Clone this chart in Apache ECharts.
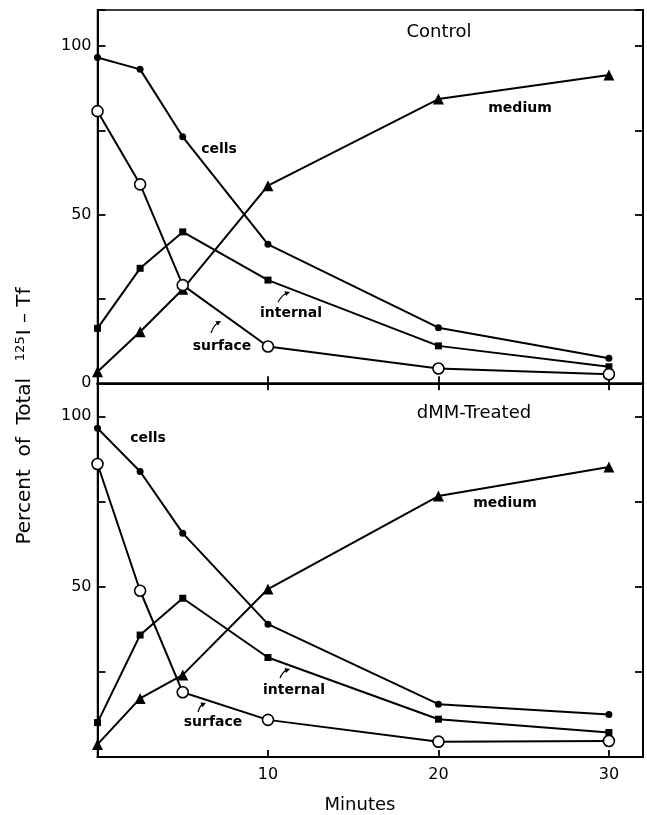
<!DOCTYPE html>
<html><head><meta charset="utf-8">
<script src="https://cdn.jsdelivr.net/npm/echarts@6/dist/echarts.min.js"></script>
<style>html,body{margin:0;padding:0;background:#fff}#c{width:647px;height:815px}</style>
</head><body><div id="c"></div>
<script>
// ---- data ----
const minutes = [0, 2.5, 5, 10, 20, 30];
const controlCells    = [96.6, 93.1, 73.1, 41.2, 16.5, 7.4];
const controlInternal = [16.3, 34.1, 44.9, 30.6, 11.1, 4.9];
const controlSurface  = [80.7, 59.0, 29.1, 10.9, 4.4, 2.7];
const controlMedium   = [3.4, 15.3, 27.9, 58.6, 84.3, 91.4];
const dmmCells        = [96.5, 83.8, 65.7, 39.0, 15.5, 12.5];
const dmmInternal     = [10.1, 35.8, 46.6, 29.2, 11.1, 7.2];
const dmmSurface      = [86.0, 48.8, 19.0, 10.9, 4.5, 4.7];
const dmmMedium       = [3.7, 17.2, 24.1, 49.3, 76.6, 85.1];
const xTickLabels = [10, 20, 30];
const yLabelsTop = [0, 50, 100];
const yLabelsBottom = [50, 100];

const FONT = 'DejaVu Sans';
const chart = echarts.init(document.getElementById('c'), null, {renderer: 'canvas'});

function pairs(vals) { return minutes.map((m, i) => [m, vals[i]]); }
function mk(name, vals, gi, symbol, size, z) {
  const open = symbol === 'emptyCircle';
  return {
    name, type: 'line', xAxisIndex: gi === 0 ? 0 : 1, yAxisIndex: gi === 0 ? 0 : 2,
    data: pairs(vals), symbol: open ? 'circle' : symbol, symbolSize: size,
    showAllSymbol: true, clip: false, animation: false, z,
    lineStyle: {color: '#000', width: 2},
    itemStyle: open ? {color: '#fff', borderColor: '#000', borderWidth: 1.6} : {color: '#000', borderWidth: 0}
  };
}

const tickStyle = {show: true, inside: true, length: 8, lineStyle: {color: '#000', width: 1.8}};
const lineStyleAx = {show: true, lineStyle: {color: '#000', width: 2}};

function yAx(gi, max, labels, pos, showLabel) {
  return {
    type: 'value', gridIndex: gi, min: 0, max, interval: 25, position: pos,
    axisLine: {...lineStyleAx, onZero: false},
    axisTick: tickStyle, splitLine: {show: false},
    axisLabel: {show: showLabel, margin: 6, fontSize: 16, color: '#000', fontFamily: FONT,
      formatter: v => labels.indexOf(v) >= 0 ? String(v) : ''}
  };
}
function xAx(gi, pos, showLabel) {
  return {
    type: 'value', gridIndex: gi, min: 0, max: 32, interval: 10, position: pos,
    axisLine: {...lineStyleAx, onZero: false},
    axisTick: {...tickStyle, length: 7}, splitLine: {show: false},
    axisLabel: {show: showLabel, margin: 10, fontSize: 16, color: '#000', fontFamily: FONT,
      formatter: v => xTickLabels.indexOf(v) >= 0 ? String(v) : ''}
  };
}

function arrow(sx, sy, ex, ey, bend) {
  const mx = (sx + ex) / 2, my = (sy + ey) / 2;
  const dx = ex - sx, dy = ey - sy, L = Math.hypot(dx, dy);
  const nx = -dy / L, ny = dx / L;
  const cx = mx + nx * bend, cy = my + ny * bend;
  let ux = ex - cx, uy = ey - cy; const ul = Math.hypot(ux, uy); ux /= ul; uy /= ul;
  const px = -uy, py = ux, hl = 5, hw = 2.6;
  return [
    {type: 'bezierCurve', shape: {x1: sx, y1: sy, x2: ex - ux * 3, y2: ey - uy * 3, cpx1: cx, cpy1: cy},
      style: {stroke: '#000', lineWidth: 1.2, fill: null}, z: 20},
    {type: 'polygon', shape: {points: [[ex, ey], [ex - ux * hl + px * hw, ey - uy * hl + py * hw], [ex - ux * hl - px * hw, ey - uy * hl - py * hw]]},
      style: {fill: '#000'}, z: 20}
  ];
}
function label(text, x, y, size, weight) {
  return {type: 'text', x, y, z: 20, style: {text, fill: '#000', fontFamily: FONT, fontSize: size,
    fontWeight: weight || 'normal', align: 'center', verticalAlign: 'middle'}};
}

const option = {
  backgroundColor: '#fff',
  animation: false,
  grid: [
    {left: 97.5, right: 4, top: 10, height: 373.3, show: true, borderColor: '#000', borderWidth: 1.5},
    {left: 97.5, right: 4, top: 383.3, height: 373.7, show: true, borderColor: '#000', borderWidth: 1.5}
  ],
  xAxis: [xAx(0, 'bottom', false), xAx(1, 'bottom', true), xAx(1, 'top', false)],
  yAxis: [yAx(0, 110.7, yLabelsTop, 'left', true), yAx(0, 110.7, [], 'right', false),
          yAx(1, 109.7, yLabelsBottom, 'left', true), yAx(1, 109.7, [], 'right', false)],
  series: [
    mk('cells', controlCells, 0, 'circle', 7, 3),
    mk('internal', controlInternal, 0, 'rect', 7, 3),
    mk('medium', controlMedium, 0, 'triangle', 11, 3),
    mk('surface', controlSurface, 0, 'emptyCircle', 11, 5),
    mk('cells', dmmCells, 1, 'circle', 7, 3),
    mk('internal', dmmInternal, 1, 'rect', 7, 3),
    mk('medium', dmmMedium, 1, 'triangle', 11, 3),
    mk('surface', dmmSurface, 1, 'emptyCircle', 11, 5)
  ],
  graphic: [
    label('Control', 439, 32, 18),
    label('cells', 219, 149, 14, 'bold'),
    label('medium', 520, 108, 14, 'bold'),
    label('internal', 291, 313, 14, 'bold'),
    label('surface', 222, 346, 14, 'bold'),
    ...arrow(278, 302, 290, 292, -3),
    ...arrow(211, 333, 221, 321, -3),
    label('dMM-Treated', 474, 413, 18),
    label('cells', 148, 438, 14, 'bold'),
    label('medium', 505, 503, 14, 'bold'),
    label('internal', 294, 690, 14, 'bold'),
    label('surface', 213, 722, 14, 'bold'),
    ...arrow(280, 678, 290, 669, -3),
    ...arrow(198, 712, 206, 703, -3),
    label('Minutes', 360, 805, 18),
    {type: 'text', x: 25, y: 416, rotation: Math.PI / 2, z: 20,
      style: {text: 'Percent  of  Total  {s|125}I – Tf', fill: '#000', fontFamily: FONT, fontSize: 20,
        align: 'center', verticalAlign: 'middle',
        rich: {s: {fontSize: 13, fontFamily: FONT, fill: '#000', verticalAlign: 'top', padding: [0, 1, 8, 4]}}}}
  ]
};
chart.setOption(option);
</script>
</body></html>
